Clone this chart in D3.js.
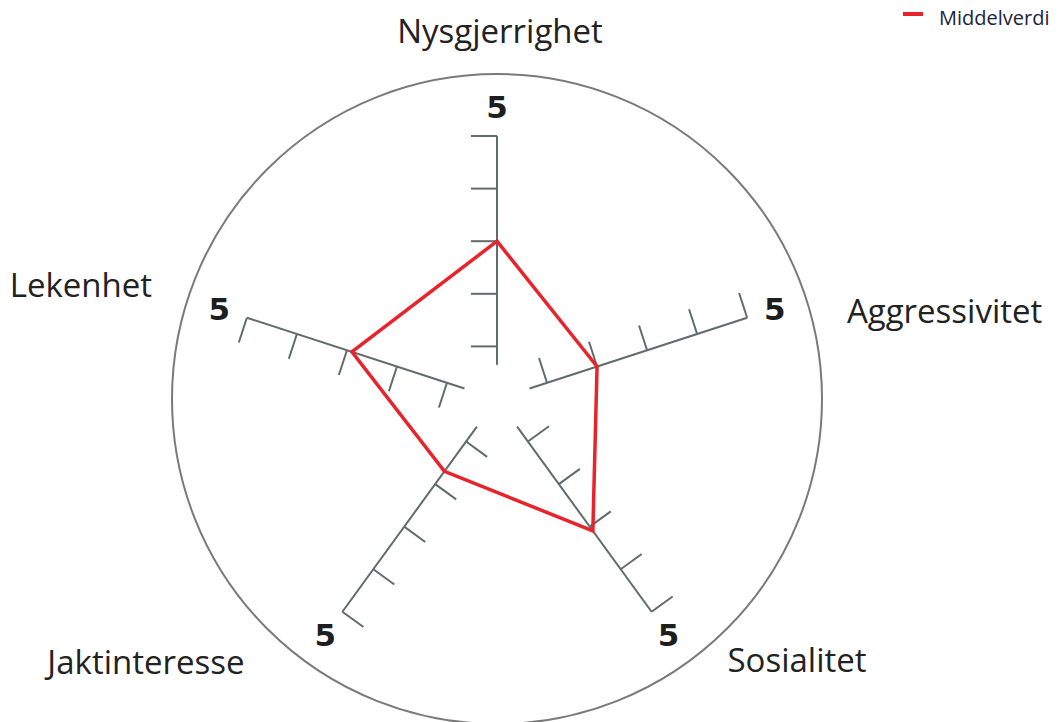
<!DOCTYPE html>
<html>
<head>
<meta charset="utf-8">
<script src="https://cdn.jsdelivr.net/npm/d3@7"></script>
<style>
  html, body { margin: 0; padding: 0; background: #fff; }
  svg { display: block; }
</style>
</head>
<body>
<div id="chart"></div>
<script>
// categories and mean values
const categories = ["Nysgjerrighet", "Aggressivitet", "Sosialitet", "Jaktinteresse", "Lekenhet"]
const meanValues = [3.0, 2.0, 3.1, 1.7, 2.9]
const tickValues = [1, 2, 3, 4, 5]
const endLabel = "5"
const legendLabel = "Middelverdi"

let width = 1060
let height = 722
let cx = 497, cy = 399

// label nudges (dx, dy, anchor) so the category names sit where they do in the picture
const labelLayout = [
    { r: 369, dx: 3, dy: 0, anchor: "middle" },
    { r: 370, dx: -2, dy: 26, anchor: "start" },
    { r: 370, dx: 13, dy: -39, anchor: "start" },
    { r: 370, dx: -35, dy: -37, anchor: "end" },
    { r: 370, dx: 7, dy: 0, anchor: "end" }
]

let svg = d3.select("#chart")
    .append("svg")
    .attr("width", width)
    .attr("height", height)

let g = svg.append("g")
    .attr("transform", "translate(" + cx + "," + cy + ")")

// radial scale
let r = d3.scaleLinear()
    .domain([0, 5])
    .range([0, 263])

let angle = d3.scalePoint()
    .domain(categories)
    .range([-Math.PI / 2, -Math.PI / 2 + 2 * Math.PI * 4 / 5])

const pt = (cat, v) => [Math.cos(angle(cat)) * r(v), Math.sin(angle(cat)) * r(v)]

// outer circle
g.append("circle")
    .attr("r", 325)
    .attr("fill", "none")
    .attr("stroke", "#7a7a7a")
    .attr("stroke-width", 2)

// axes
let axis = g.selectAll(".axis")
    .data(categories)
    .enter()
    .append("g")
    .attr("class", "axis")

axis.append("line")
    .attr("x1", d => pt(d, 0.65)[0])
    .attr("y1", d => pt(d, 0.65)[1])
    .attr("x2", d => pt(d, 5)[0])
    .attr("y2", d => pt(d, 5)[1])
    .attr("stroke", "#626a6b")
    .attr("stroke-width", 2)

axis.selectAll(".tick")
    .data(d => tickValues.map(t => ({ cat: d, v: t })))
    .enter()
    .append("line")
    .attr("class", "tick")
    .attr("x1", d => pt(d.cat, d.v)[0])
    .attr("y1", d => pt(d.cat, d.v)[1])
    .attr("x2", d => pt(d.cat, d.v)[0] + Math.cos(angle(d.cat) - Math.PI / 2) * 26)
    .attr("y2", d => pt(d.cat, d.v)[1] + Math.sin(angle(d.cat) - Math.PI / 2) * 26)
    .attr("stroke", "#626a6b")
    .attr("stroke-width", 2)

axis.append("text")
    .attr("x", d => Math.cos(angle(d)) * 292)
    .attr("y", d => Math.sin(angle(d)) * 292)
    .attr("text-anchor", "middle")
    .attr("dominant-baseline", "central")
    .attr("font-family", "DejaVu Sans")
    .attr("font-weight", "bold")
    .attr("font-size", 31)
    .attr("fill", "#1e1e1e")
    .text(endLabel)

// category names
g.selectAll(".cat")
    .data(categories)
    .enter()
    .append("text")
    .attr("class", "cat")
    .attr("x", (d, i) => Math.cos(angle(d)) * labelLayout[i].r + labelLayout[i].dx)
    .attr("y", (d, i) => Math.sin(angle(d)) * labelLayout[i].r + labelLayout[i].dy)
    .attr("text-anchor", (d, i) => labelLayout[i].anchor)
    .attr("dominant-baseline", "central")
    .attr("font-family", "Open Sans")
    .attr("font-size", 33)
    .attr("fill", "#222")
    .text(d => d)

// mean value polygon
g.append("path")
    .datum(categories.map((c, i) => pt(c, meanValues[i])))
    .attr("fill", "none")
    .attr("stroke", "#e8232b")
    .attr("stroke-width", 3.5)
    .attr("stroke-linejoin", "miter")
    .attr("d", d => d3.line()(d) + "Z")

// legend
let legend = svg.append("g")
    .attr("transform", "translate(903,14)")

legend.append("line")
    .attr("x1", 0).attr("x2", 20)
    .attr("stroke", "#e8232b")
    .attr("stroke-width", 4)

legend.append("text")
    .attr("x", 36)
    .attr("y", 3)
    .attr("dominant-baseline", "central")
    .attr("font-family", "Open Sans")
    .attr("font-size", 20)
    .attr("fill", "#1c2440")
    .text(legendLabel)
</script>
</body>
</html>
